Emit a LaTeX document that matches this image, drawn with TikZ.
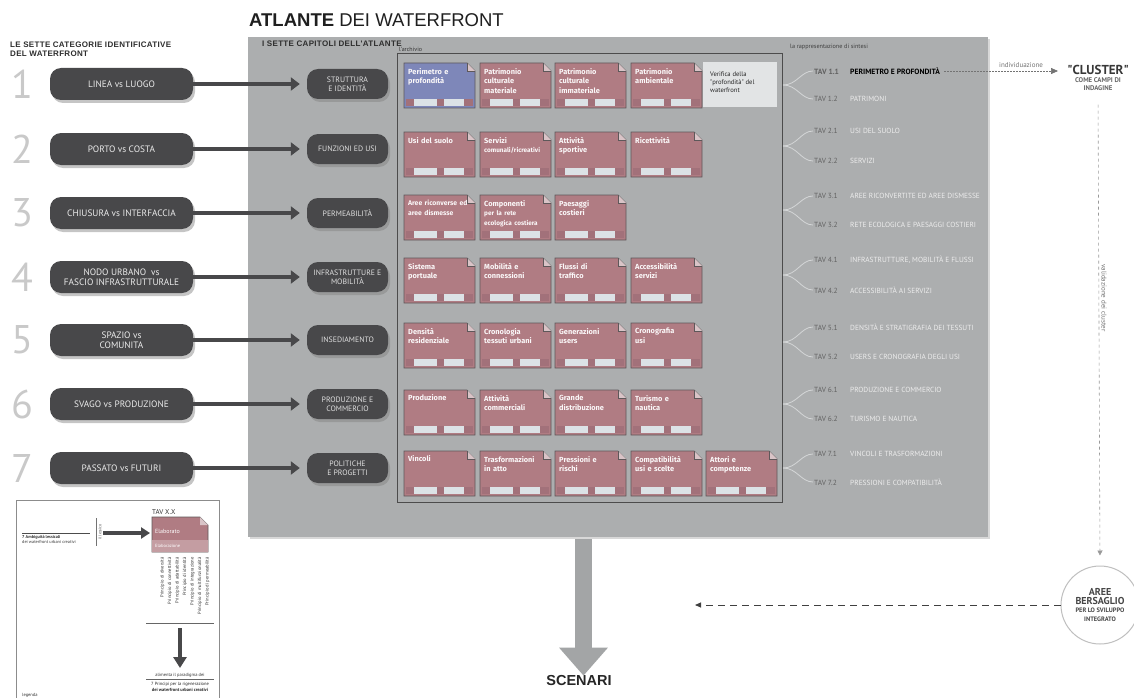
\documentclass[tikz,border=0pt]{standalone}
\usepackage{fontspec}
\setmainfont{PT Sans}
\newfontfamily\arialf{Liberation Sans}
\newfontfamily\firaf{Fira Sans}
\newfontfamily\ptplain[Ligatures=TeXOff]{PT Sans}
\usetikzlibrary{arrows.meta,shadows,calc}
\definecolor{panelgray}{HTML}{ACAEAF}
\definecolor{pilldark}{HTML}{48484A}
\definecolor{numgray}{HTML}{C9C9C9}
\definecolor{cardrose}{HTML}{B07C83}
\definecolor{cardblue}{HTML}{7E87B9}
\definecolor{cardline}{HTML}{5E585A}
\definecolor{foldfill}{HTML}{D9C4C7}
\definecolor{stripfill}{HTML}{DCE2E6}
\definecolor{stripdark}{HTML}{A2717A}
\definecolor{tavline}{HTML}{D4D6D7}
\definecolor{txtdark}{HTML}{2E2E2E}
\definecolor{verif}{HTML}{E2E4E5}
\newcommand\fs[2]{\fontsize{#1}{#2}\selectfont}
\newcommand\dq{{\ptplain\symbol{34}}}
\tikzset{
  catpill/.style={rounded corners=11pt, fill=pilldark, minimum width=143pt, minimum height=32pt,
    text=white!92!black, font=\fs{9.3}{10.5}, align=center, inner sep=1pt,
    drop shadow={shadow xshift=2pt, shadow yshift=-3pt, opacity=0.45}},
  chappill/.style={rounded corners=11pt, fill=pilldark, minimum width=81pt, minimum height=30pt,
    text=white!88!black, font=\fs{7.8}{9}, align=center, inner sep=1pt,
    drop shadow={shadow xshift=2pt, shadow yshift=-3pt, opacity=0.45}},
  catarrow/.style={draw=pilldark, line width=4.5pt, -{Triangle[length=9pt,width=13pt]}, shorten >=7pt},
  numstyle/.style={text=numgray, font=\fs{40}{40}, inner sep=0pt},
  celltext/.style={text=white!95!cardrose, font=\firaf\bfseries\fs{7.4}{9.6}, align=left, text width=64pt, inner sep=0pt},
  cardbody/.style={draw=cardline, line width=0.7pt},
  tavlab/.style={anchor=west, font=\fs{7.4}{8}, text=white!93!black, inner sep=1pt},
  tavconn/.style={draw=tavline, line width=0.8pt},
  hdr/.style={anchor=west, font=\arialf\bfseries\fs{8}{9.5}, text=txtdark, align=left, inner sep=0pt},
}
\newcommand\tav[2]{\makebox[36pt][l]{\color{black!62}#1}#2}
\newcommand\wcard[5]{%
  \path[cardbody, fill=#4] (#2,#3) -- ++(63,0) -- ++(8,8) -- ++(0,37) -- ++(-71,0) -- cycle;
  \fill[foldfill] (#2+63,#3) -- (#2+63,#3+8) -- (#2+71,#3+8) -- cycle;
  \draw[cardline, line width=0.5pt] (#2+63,#3) -- (#2+63,#3+8) -- (#2+71,#3+8);
  \fill[stripfill] (#2+2,#3+36) rectangle (#2+69,#3+43);
  \fill[stripdark] (#2+2,#3+36) rectangle (#2+10,#3+43);
  \fill[stripdark] (#2+33,#3+36) rectangle (#2+40,#3+43);
  \fill[stripdark] (#2+60,#3+36) rectangle (#2+69,#3+43);
  \node[celltext, anchor=north west] (#1) at (#2+4,#3+5) {#5};
}
\begin{document}
\begin{tikzpicture}[x=1pt,y=-1pt]
\useasboundingbox (0,0) rectangle (1134,698);
\fill[white] (0,0) rectangle (1134,698);

% title
\node[anchor=west, font=\arialf\fs{18.5}{20}, text=black!88, inner sep=0pt] (title) at (249,20) {\textbf{ATLANTE} DEI WATERFRONT};

% panel
\node[fill=panelgray, minimum width=740pt, minimum height=500pt, inner sep=0pt,
  drop shadow={shadow xshift=1.5pt, shadow yshift=-2pt, opacity=0.3}] (panel) at (618,287) {};
\node[hdr] (hcat) at (10,49) {\addfontfeature{LetterSpace=4}LE SETTE CATEGORIE IDENTIFICATIVE\\\addfontfeature{LetterSpace=4}DEL WATERFRONT};
\node[hdr] (hcap) at (262,44) {\addfontfeature{LetterSpace=4}I SETTE CAPITOLI DELL'ATLANTE};
\node[anchor=south west, font=\rmfamily\fs{6}{6}, text=black!80, inner sep=0pt] (harch) at (399,52) {l'archivio};
\node[anchor=south west, font=\fs{6.2}{6.5}, text=black!75, inner sep=0pt] (hsint) at (790,50) {la rappresentazione di sintesi};

% inner frame
\draw[draw=black!70, line width=0.8pt] (397,53) rectangle (782,502);

% rows: numbers, category pills, chapter pills
\foreach \n/\y in {1/84,2/149,3/213,4/277,5/340,6/404,7/468}{
  \node[numstyle] (n\n) at (22,\y) {\n};
}
\node[catpill] (c1) at (121.5,84) {LINEA vs LUOGO};
\node[catpill] (c2) at (121.5,149) {PORTO vs COSTA};
\node[catpill] (c3) at (121.5,213) {CHIUSURA vs INTERFACCIA};
\node[catpill] (c4) at (121.5,277) {NODO URBANO\ \ vs\\FASCIO INFRASTRUTTURALE};
\node[catpill] (c5) at (121.5,340) {SPAZIO vs\\COMUNITA};
\node[catpill] (c6) at (121.5,404) {SVAGO vs PRODUZIONE};
\node[catpill] (c7) at (121.5,468) {PASSATO vs FUTURI};

\node[chappill] (m1) at (347.5,84) {STRUTTURA\\E IDENTITÀ};
\node[chappill] (m2) at (347.5,149) {FUNZIONI ED USI};
\node[chappill] (m3) at (347.5,213) {PERMEABILITÀ};
\node[chappill] (m4) at (347.5,277) {INFRASTRUTTURE E\\MOBILITÀ};
\node[chappill] (m5) at (347.5,340) {INSEDIAMENTO};
\node[chappill] (m6) at (347.5,404) {PRODUZIONE E\\COMMERCIO};
\node[chappill] (m7) at (347.5,468) {POLITICHE\\E PROGETTI};
\foreach \i in {1,...,7}{\draw[catarrow] (c\i.east) -- (m\i.west);}

% cards
\wcard{k11}{404}{63}{cardblue}{Perimetro e\\profondità}
\wcard{k12}{480}{63}{cardrose}{Patrimonio\\culturale\\materiale}
\wcard{k13}{555}{63}{cardrose}{Patrimonio\\culturale\\immateriale}
\wcard{k14}{631}{63}{cardrose}{Patrimonio\\ambientale}
\fill[verif] (703,62) rectangle (777,107);
\node[anchor=north west, font=\fs{6.6}{8}, text=black!85, align=left, inner sep=0pt] (k15) at (710,72) {Verifica della\\\dq profondità\dq{} del\\waterfront};

\wcard{k21}{404}{132}{cardrose}{Usi del suolo}
\wcard{k22}{480}{132}{cardrose}{Servizi\\{\fs{6.4}{8}comunali/ricreativi}}
\wcard{k23}{555}{132}{cardrose}{Attività\\sportive}
\wcard{k24}{631}{132}{cardrose}{Ricettività}

\wcard{k31}{404}{195}{cardrose}{{\fs{6.8}{8}Aree riconverse ed}\\{\fs{6.8}{8}aree dismesse}}
\wcard{k32}{480}{195}{cardrose}{Componenti\\{\fs{6.4}{8}per la rete}\\{\fs{6.4}{8}ecologica costiera}}
\wcard{k33}{555}{195}{cardrose}{Paesaggi\\costieri}

\wcard{k41}{404}{258}{cardrose}{Sistema\\portuale}
\wcard{k42}{480}{258}{cardrose}{Mobilità e\\connessioni}
\wcard{k43}{555}{258}{cardrose}{Flussi di\\traffico}
\wcard{k44}{631}{258}{cardrose}{Accessibilità\\servizi}

\wcard{k51}{404}{323}{cardrose}{Densità\\residenziale}
\wcard{k52}{480}{323}{cardrose}{Cronologia\\tessuti urbani}
\wcard{k53}{555}{323}{cardrose}{Generazioni\\users}
\wcard{k54}{631}{323}{cardrose}{Cronografia\\usi}

\wcard{k61}{404}{390}{cardrose}{\\[-4pt]Produzione}
\wcard{k62}{480}{390}{cardrose}{Attività\\commerciali}
\wcard{k63}{555}{390}{cardrose}{Grande\\distribuzione}
\wcard{k64}{631}{390}{cardrose}{Turismo e\\nautica}

\wcard{k71}{404}{451}{cardrose}{\\[-4pt]Vincoli}
\wcard{k72}{480}{451}{cardrose}{Trasformazioni\\in atto}
\wcard{k73}{555}{451}{cardrose}{Pressioni e\\rischi}
\wcard{k74}{631}{451}{cardrose}{Compatibilità\\usi e scelte}
\wcard{k75}{706}{451}{cardrose}{Attori e\\competenze}

% TAV labels
\begin{scope}
\clip (248,37) rectangle (988,537);
\node[tavlab, text=black, font=\bfseries\fs{7.6}{8}] (t11) at (813,71) {\tav{TAV 1.1}{PERIMETRO E PROFONDITÀ}};
\node[tavlab] (t12) at (813,99) {\tav{TAV 1.2}{PATRIMONI}};
\node[tavlab] (t21) at (813,131) {\tav{TAV 2.1}{USI DEL SUOLO}};
\node[tavlab] (t22) at (813,161) {\tav{TAV 2.2}{SERVIZI}};
\node[tavlab] (t31) at (813,196) {\tav{TAV 3.1}{AREE RICONVERTITE ED AREE DISMESSE}};
\node[tavlab] (t32) at (813,225) {\tav{TAV 3.2}{RETE ECOLOGICA E PAESAGGI COSTIERI}};
\node[tavlab] (t41) at (813,260) {\tav{TAV 4.1}{INFRASTRUTTURE, MOBILITÀ E FLUSSI}};
\node[tavlab] (t42) at (813,290) {\tav{TAV 4.2}{ACCESSIBILITÀ AI SERVIZI}};
\node[tavlab] (t51) at (813,327) {\tav{TAV 5.1}{DENSITÀ E STRATIGRAFIA DEI TESSUTI}};
\node[tavlab] (t52) at (813,357) {\tav{TAV 5.2}{USERS E CRONOGRAFIA DEGLI USI}};
\node[tavlab] (t61) at (813,390) {\tav{TAV 6.1}{PRODUZIONE E COMMERCIO}};
\node[tavlab] (t62) at (813,419) {\tav{TAV 6.2}{TURISMO E NAUTICA}};
\node[tavlab] (t71) at (813,454) {\tav{TAV 7.1}{VINCOLI E TRASFORMAZIONI}};
\node[tavlab] (t72) at (813,482) {\tav{TAV 7.2}{PRESSIONI E COMPATIBILITÀ}};
\end{scope}
\foreach \i/\y in {1/85,2/146,3/210,4/275,5/342,6/404,7/468}{
  \coordinate (s\i) at (783,\y);
  \draw[tavconn] (s\i) .. controls +(14,0) and +(-12,0) .. (t\i1.west);
  \draw[tavconn] (s\i) .. controls +(14,0) and +(-12,0) .. (t\i2.west);
}

% right side
\node[font=\fs{7}{7}, text=black!55, inner sep=0pt] (indiv) at (1021,65) {individuazione};
\node[font=\bfseries\fs{13}{14}, text=black!78, inner sep=0pt] (cluster) at (1098,70) {\dq CLUSTER\dq};
\node[font=\bfseries\fs{6.8}{8}, text=black!60, align=center, inner sep=0pt] (camp) at (1098,84) {COME CAMPI DI\\INDAGINE};
\coordinate (dotend) at (1058,71);
\draw[black!55, line width=0.7pt, dash pattern=on 1.5pt off 1.5pt, shorten <=3pt, -{Triangle[length=7pt,width=6pt]}] (t11.east) -- (dotend);
\node[circle, draw=black!25, line width=1pt, fill=white, minimum size=78pt, inner sep=0pt, align=center, text=black!72, font=\bfseries\fs{6.4}{8.5}] (aree) at (1100,605)
  {{\fs{10}{10}AREE}\\{\fs{10}{10}BERSAGLIO}\\PER LO SVILUPPO\\INTEGRATO};
\draw[black!40, line width=0.6pt, dash pattern=on 3pt off 3pt, shorten <=14pt, shorten >=10pt, -{Triangle[length=5pt,width=5pt]}] (camp.south) -- (aree.north);
\node[rotate=-90, font=\fs{7}{7}, text=black!55, fill=white, inner sep=1pt] (valid) at (1104,298) {validazione dei cluster};
\coordinate (hend) at (695,605);
\draw[black!75, line width=0.9pt, dash pattern=on 7pt off 5pt, -{Triangle[length=6pt,width=5pt]}] (aree.west) -- (hend);

% scenari
\node[font=\arialf\bfseries\fs{14.5}{15}, text=black!85, inner sep=0pt] (scen) at (579,681) {SCENARI};
\coordinate (arrtop) at (583.5,539);
\draw[draw=panelgray!95!black, line width=17pt, -{Triangle[length=28pt,width=47pt]}] (arrtop) -- (scen.north -| arrtop);

% legend
\draw[black!45, line width=0.8pt] (16,700) -- (16,500) -- (219,500) -- (219,700);
\node[font=\fs{7}{8}, text=black!80, inner sep=0pt, anchor=west] (ltav) at (152,512) {TAV X.X};
\path[cardbody, fill=cardrose] (152,517) -- ++(48,0) -- ++(8,8) -- ++(0,27) -- ++(-56,0) -- cycle;
\fill[foldfill] (200,517) -- (200,525) -- (208,525) -- cycle;
\fill[cardrose!75!white] (152,540) rectangle (208,552);
\node[anchor=west, font=\fs{6}{7}, text=white, inner sep=0pt] (lelab) at (155,531) {Elaborato};
\node[anchor=west, font=\fs{4.5}{5}, text=white, inner sep=0pt] (lelab2) at (155,546) {Elaborazione};
\draw[black!70, line width=0.5pt] (22,533) -- (90,533);
\node[anchor=north west, font=\fs{4.3}{5.5}, text=black!80, align=left, inner sep=0pt] (lamb) at (22,535) {\textbf{7 Ambiguità lessicali}\\dei waterfront urbani creativi};
\draw[black!55, line width=0.5pt] (96,518) -- (96,546);
\node[rotate=90, font=\fs{4}{5}, text=black!70, inner sep=0pt] (lless) at (100,532) {il lessico};
\draw[pilldark, line width=3.5pt, -{Triangle[length=9pt,width=11pt]}] (103,533) -- (150,533);
\foreach \t [count=\k] in {Principio di diversità,Principio di connettività,Principio di adattabilità,Principio di identità,Principio di integrazione,Principio di multifunzionalità,Principio di permeabilità}{
  \node[rotate=90, anchor=east, font=\fs{4.6}{5}, text=black!80, inner sep=0pt] (pr\k) at (155+7.5*\k,557) {\t};
}
\draw[black!60, line width=1pt] (146,623) -- (214,623);
\coordinate (ldtop) at (180,628);
\coordinate (ldbot) at (180,668);
\draw[pilldark, line width=4pt, -{Triangle[length=11pt,width=13pt]}] (ldtop) -- (ldbot);
\node[font=\fs{4.5}{5}, text=black!80, inner sep=0pt] (lali) at (180,675) {alimenta il paradigma dei};
\draw[black!60, line width=0.5pt] (146,679) -- (214,679);
\node[font=\fs{4.5}{5.5}, text=black!85, align=center, inner sep=0pt] (lpri) at (180,687) {7 Principi per la rigenerazione\\\textbf{dei waterfront urbani creativi}};
\node[anchor=west, font=\fs{4.5}{5}, text=black!80, inner sep=0pt] (lleg) at (22,695) {legenda};
\end{tikzpicture}
\end{document}
